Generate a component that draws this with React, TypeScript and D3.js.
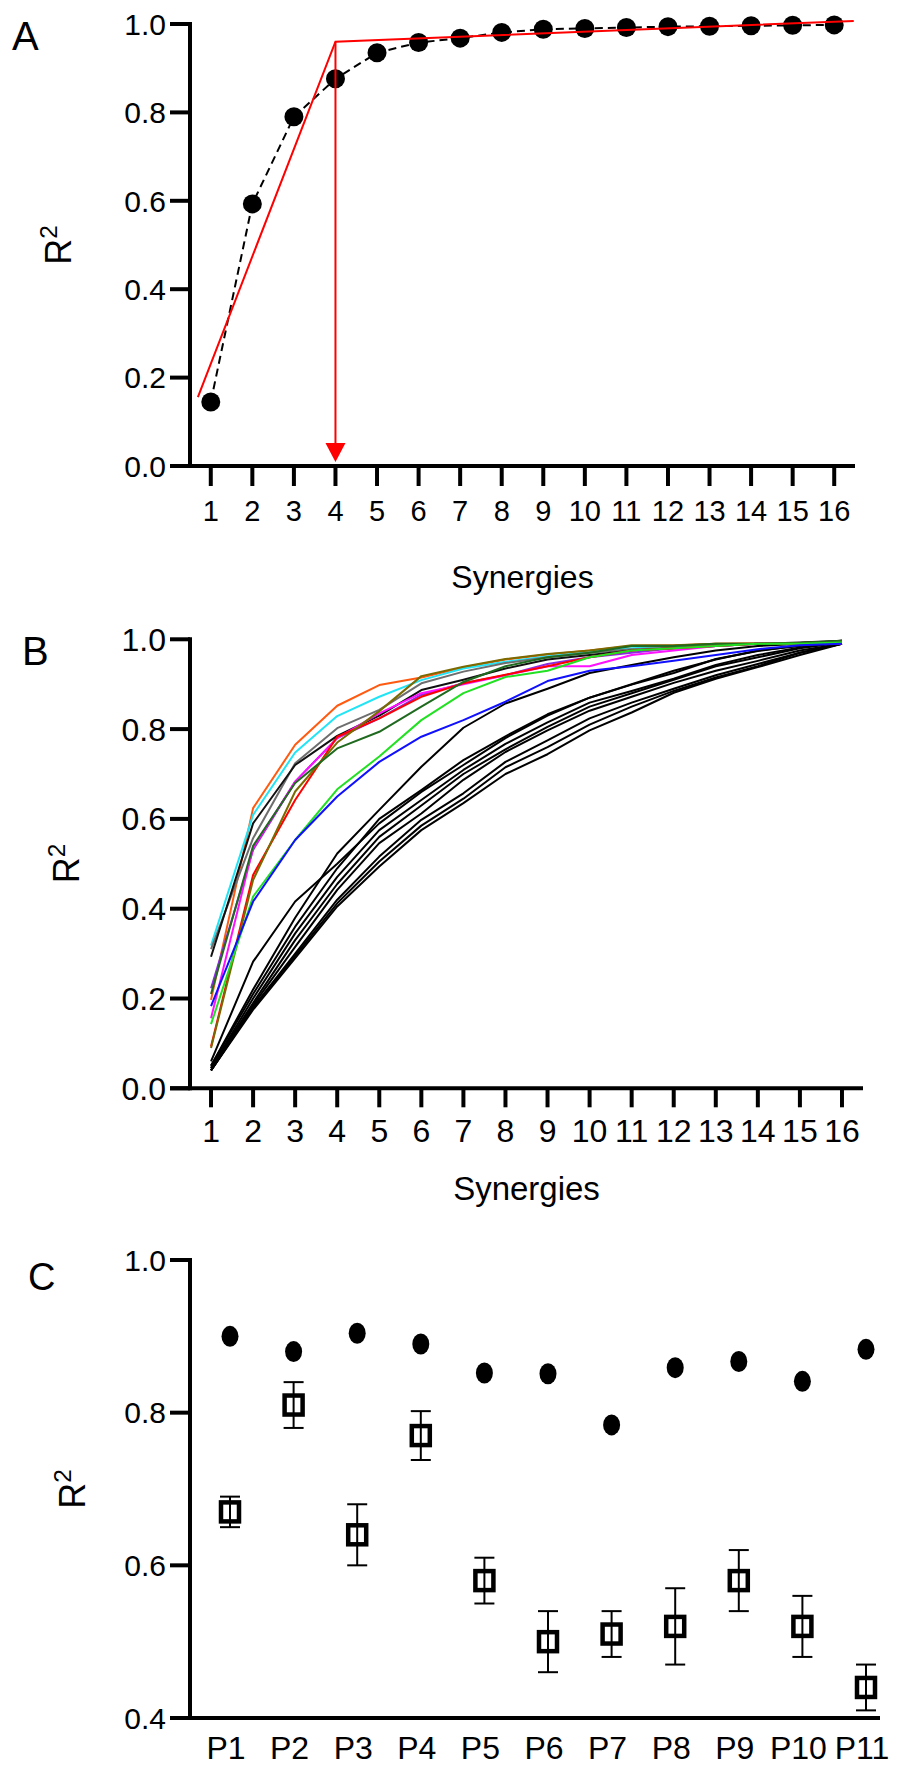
import React from 'react';
import * as d3 from 'd3';

// ---------- DATA ----------
const synergies = [1, 2, 3, 4, 5, 6, 7, 8, 9, 10, 11, 12, 13, 14, 15, 16];
const yTicksAB = [0, 0.2, 0.4, 0.6, 0.8, 1.0];

// Panel A: mean R2 vs number of synergies
const meanR2 = [0.145, 0.593, 0.79, 0.876, 0.935, 0.958, 0.968, 0.981, 0.988, 0.99, 0.992, 0.994, 0.995, 0.996, 0.997, 0.998];
// Two-segment linear fit (knee at 4 synergies)
const fitX = [0.69, 4, 16.47];
const fitY = [0.156, 0.96, 1.007];
const kneeSynergy = 4;

// Panel B: individual curves
const colouredCurves = [
  [0.197, 0.624, 0.765, 0.852, 0.898, 0.915, 0.937, 0.955, 0.966, 0.975, 0.985, 0.986, 0.99, 0.991, 0.992, 0.995],
  [0.318, 0.609, 0.748, 0.829, 0.872, 0.909, 0.935, 0.95, 0.962, 0.972, 0.98, 0.984, 0.988, 0.99, 0.992, 0.995],
  [0.31, 0.557, 0.724, 0.802, 0.843, 0.902, 0.928, 0.947, 0.96, 0.97, 0.978, 0.982, 0.987, 0.99, 0.992, 0.995],
  [0.293, 0.59, 0.72, 0.785, 0.83, 0.887, 0.91, 0.935, 0.955, 0.965, 0.975, 0.98, 0.985, 0.99, 0.993, 0.997],
  [0.223, 0.531, 0.683, 0.78, 0.824, 0.876, 0.902, 0.92, 0.945, 0.96, 0.97, 0.98, 0.985, 0.99, 0.99, 0.993],
  [0.156, 0.535, 0.683, 0.78, 0.835, 0.88, 0.9, 0.92, 0.94, 0.94, 0.965, 0.975, 0.985, 0.99, 0.99, 0.99],
  [0.093, 0.475, 0.642, 0.783, 0.824, 0.872, 0.902, 0.921, 0.94, 0.96, 0.975, 0.98, 0.985, 0.99, 0.99, 0.99],
  [0.09, 0.464, 0.661, 0.77, 0.84, 0.918, 0.939, 0.956, 0.967, 0.975, 0.987, 0.987, 0.99, 0.99, 0.992, 0.995],
  [0.21, 0.54, 0.68, 0.757, 0.794, 0.85, 0.905, 0.94, 0.96, 0.97, 0.985, 0.985, 0.99, 0.99, 0.992, 0.997],
  [0.143, 0.427, 0.553, 0.666, 0.739, 0.82, 0.88, 0.916, 0.93, 0.96, 0.975, 0.98, 0.985, 0.99, 0.99, 0.993],
  [0.183, 0.416, 0.553, 0.65, 0.727, 0.783, 0.82, 0.861, 0.907, 0.93, 0.94, 0.952, 0.965, 0.978, 0.987, 0.99],
];
const colouredCurveColours = ['#ff5a10', '#22e4f4', '#6e6e6e', '#111111', '#8a2be2', '#ff10ff', '#ff0000', '#7a6a00', '#1f6a1f', '#22e022', '#1010ff'];

const blackCurves = [
  [0.06, 0.282, 0.416, 0.5, 0.59, 0.66, 0.72, 0.78, 0.83, 0.87, 0.9, 0.93, 0.955, 0.975, 0.985, 0.997],
  [0.05, 0.22, 0.38, 0.523, 0.62, 0.716, 0.803, 0.857, 0.89, 0.925, 0.943, 0.96, 0.975, 0.985, 0.99, 0.997],
  [0.05, 0.21, 0.36, 0.49, 0.6, 0.664, 0.731, 0.784, 0.833, 0.87, 0.899, 0.925, 0.956, 0.974, 0.987, 0.995],
  [0.045, 0.2, 0.345, 0.471, 0.575, 0.642, 0.709, 0.767, 0.815, 0.859, 0.885, 0.912, 0.943, 0.965, 0.982, 0.995],
  [0.045, 0.19, 0.33, 0.455, 0.56, 0.63, 0.7, 0.755, 0.805, 0.85, 0.88, 0.91, 0.94, 0.96, 0.98, 0.993],
  [0.04, 0.185, 0.315, 0.442, 0.546, 0.612, 0.687, 0.749, 0.797, 0.841, 0.872, 0.903, 0.93, 0.952, 0.975, 0.99],
  [0.04, 0.18, 0.3, 0.42, 0.516, 0.598, 0.657, 0.727, 0.775, 0.824, 0.859, 0.89, 0.92, 0.945, 0.97, 0.99],
  [0.04, 0.18, 0.295, 0.412, 0.505, 0.585, 0.645, 0.715, 0.76, 0.81, 0.85, 0.885, 0.915, 0.94, 0.97, 0.99],
  [0.04, 0.175, 0.29, 0.405, 0.494, 0.575, 0.635, 0.7, 0.744, 0.797, 0.837, 0.881, 0.912, 0.938, 0.965, 0.99],
];

// Panel C
const participants = ['P1', 'P2', 'P3', 'P4', 'P5', 'P6', 'P7', 'P8', 'P9', 'P10', 'P11'];
const yTicksC = [0.4, 0.6, 0.8, 1.0];
const ownR2 = [0.9, 0.88, 0.904, 0.89, 0.852, 0.851, 0.784, 0.859, 0.867, 0.841, 0.883];
const crossMean = [0.67, 0.81, 0.64, 0.77, 0.58, 0.5, 0.51, 0.52, 0.58, 0.52, 0.44];
const crossErr = [0.02, 0.03, 0.04, 0.032, 0.03, 0.04, 0.03, 0.05, 0.04, 0.04, 0.03];

// ---------- LAYOUT ----------
const W = 906;
const H = 1767;
const FONT = "'Liberation Sans', Arial, Helvetica, sans-serif";
const AX = 4;

const xA = d3.scaleLinear().domain([0.5, 16.5]).range([190, 855]);
const yA = d3.scaleLinear().domain([0, 1]).range([466, 24]);
const xB = d3.scaleLinear().domain([0.5, 16.5]).range([190, 863]);
const yB = d3.scaleLinear().domain([0, 1]).range([1088.3, 639.3]);
const xC = d3.scalePoint<string>().domain(participants).range([230, 866]);
const yC = d3.scaleLinear().domain([0.4, 1.0]).range([1718, 1260]);

function YAxis({ y, ticks, x0, fontSize, labelRight }: any) {
  const [r0, r1] = y.range();
  return (
    <g>
      <line x1={x0} x2={x0} y1={r0 + AX / 2} y2={r1 - AX / 2} stroke="#000" strokeWidth={AX} />
      {ticks.map((t: number) => (
        <g key={t}>
          <line x1={x0 - 20} x2={x0} y1={y(t)} y2={y(t)} stroke="#000" strokeWidth={AX} />
          <text x={labelRight} y={y(t)} dy="0.36em" textAnchor="end" fontSize={fontSize} fontFamily={FONT}>
            {t.toFixed(1)}
          </text>
        </g>
      ))}
    </g>
  );
}

function R2Label({ cx, cy, size }: any) {
  return (
    <text transform={`translate(${cx + size * 0.36},${cy}) rotate(-90)`} textAnchor="middle" fontSize={size} fontFamily={FONT}>
      R<tspan fontSize={size * 0.68} dy={-size * 0.38}>2</tspan>
    </text>
  );
}

export default function App() {
  const lineA = d3.line<number>().x((_, i) => xA(synergies[i])).y((d) => yA(d));
  const fitLine = d3.line<number>().x((_, i) => xA(fitX[i])).y((d) => yA(d));
  const lineB = d3.line<number>().x((_, i) => xB(synergies[i])).y((d) => yB(d));

  const kx = xA(kneeSynergy);
  const kneeTop = yA(fitY[1]);
  const arrowTip = yA(0) - 4;

  return (
    <svg width={W} height={H} viewBox={`0 0 ${W} ${H}`} style={{ position: 'absolute', left: 0, top: 0, background: '#fff' }}>
      <rect x={0} y={0} width={W} height={H} fill="#fff" />

      {/* ---------- Panel A ---------- */}
      <text x={12} y={50} fontSize={40} fontFamily={FONT}>A</text>
      <YAxis y={yA} ticks={yTicksAB} x0={190} fontSize={30} labelRight={166} />
      <line x1={170} x2={855} y1={yA(0)} y2={yA(0)} stroke="#000" strokeWidth={AX} />
      {synergies.map((s) => (
        <g key={s}>
          <line x1={xA(s)} x2={xA(s)} y1={yA(0)} y2={yA(0) + 20} stroke="#000" strokeWidth={AX} />
          <text x={xA(s)} y={521} textAnchor="middle" fontSize={29} fontFamily={FONT}>{s}</text>
        </g>
      ))}
      <text x={(190 + 855) / 2} y={588} textAnchor="middle" fontSize={32} fontFamily={FONT}>Synergies</text>
      <R2Label cx={58} cy={245} size={36} />

      <path d={lineA(meanR2) || ''} fill="none" stroke="#000" strokeWidth={2} strokeDasharray="8 5" />
      {meanR2.map((v, i) => (
        <circle key={i} cx={xA(synergies[i])} cy={yA(v)} r={9.5} fill="#000" />
      ))}
      <path d={fitLine(fitY) || ''} fill="none" stroke="#ff0000" strokeWidth={2} />
      <line x1={kx} x2={kx} y1={kneeTop} y2={arrowTip - 16} stroke="#ff0000" strokeWidth={2} />
      <path d={`M${kx - 10},${arrowTip - 19} L${kx + 10},${arrowTip - 19} L${kx},${arrowTip} Z`} fill="#ff0000" />

      {/* ---------- Panel B ---------- */}
      <text x={22} y={665} fontSize={40} fontFamily={FONT}>B</text>
      <YAxis y={yB} ticks={yTicksAB} x0={190} fontSize={32} labelRight={166} />
      <line x1={170} x2={863} y1={yB(0)} y2={yB(0)} stroke="#000" strokeWidth={AX} />
      {synergies.map((s) => (
        <g key={s}>
          <line x1={xB(s)} x2={xB(s)} y1={yB(0)} y2={yB(0) + 19} stroke="#000" strokeWidth={AX} />
          <text x={xB(s)} y={1142} textAnchor="middle" fontSize={32} fontFamily={FONT}>{s}</text>
        </g>
      ))}
      <text x={(190 + 863) / 2} y={1200} textAnchor="middle" fontSize={33} fontFamily={FONT}>Synergies</text>
      <R2Label cx={66} cy={(639 + 1088) / 2} size={36} />

      {blackCurves.map((c, i) => (
        <path key={'k' + i} d={lineB(c) || ''} fill="none" stroke="#000" strokeWidth={2} strokeLinejoin="round" />
      ))}
      {colouredCurves.map((c, i) => (
        <path key={'c' + i} d={lineB(c) || ''} fill="none" stroke={colouredCurveColours[i]} strokeWidth={2} strokeLinejoin="round" />
      ))}

      {/* ---------- Panel C ---------- */}
      <text x={28} y={1290} fontSize={38} fontFamily={FONT}>C</text>
      <YAxis y={yC} ticks={yTicksC} x0={190} fontSize={30} labelRight={166} />
      <line x1={170} x2={880} y1={yC(0.4)} y2={yC(0.4)} stroke="#000" strokeWidth={AX} />
      {participants.map((p) => (
        <text key={p} x={(xC(p) as number) - 4} y={1759} textAnchor="middle" fontSize={32} fontFamily={FONT}>{p}</text>
      ))}
      <R2Label cx={72} cy={1489} size={36} />

      {participants.map((p, i) => {
        const cx = xC(p) as number;
        const m = crossMean[i];
        const e = crossErr[i];
        return (
          <g key={p}>
            <ellipse cx={cx} cy={yC(ownR2[i])} rx={8.5} ry={10.5} fill="#000" />
            <line x1={cx} x2={cx} y1={yC(m + e)} y2={yC(m - e)} stroke="#000" strokeWidth={2} />
            <line x1={cx - 10} x2={cx + 10} y1={yC(m + e)} y2={yC(m + e)} stroke="#000" strokeWidth={2} />
            <line x1={cx - 10} x2={cx + 10} y1={yC(m - e)} y2={yC(m - e)} stroke="#000" strokeWidth={2} />
            <rect x={cx - 9} y={yC(m) - 9.5} width={18} height={19} fill="none" stroke="#000" strokeWidth={4.5} />
          </g>
        );
      })}
    </svg>
  );
}
